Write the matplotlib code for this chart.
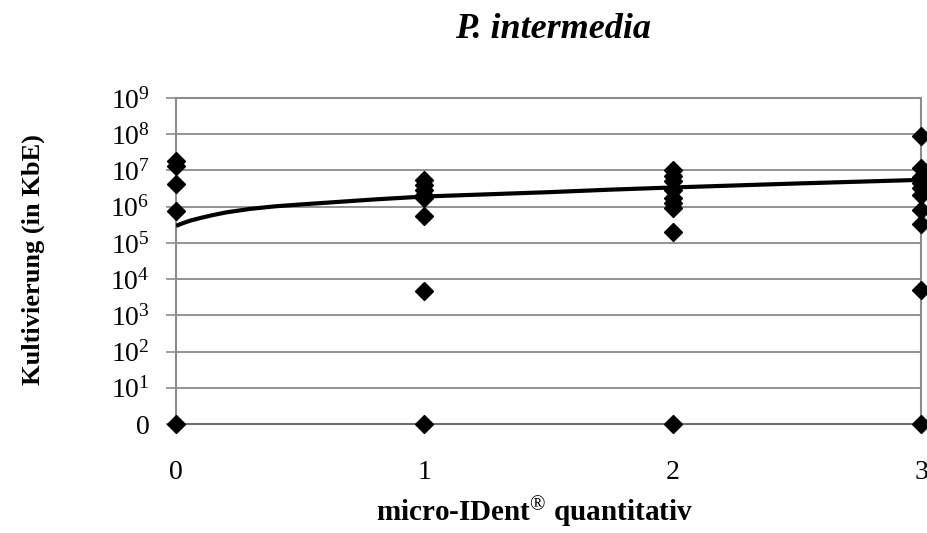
import numpy as np
import matplotlib
matplotlib.use("Agg")
import matplotlib.pyplot as plt

plt.rcParams['font.family'] = ['Liberation Serif', 'DejaVu Serif']
plt.rcParams['mathtext.fontset'] = 'custom'
plt.rcParams['mathtext.rm'] = 'Liberation Serif'
plt.rcParams['mathtext.it'] = 'Liberation Serif:italic'
plt.rcParams['mathtext.bf'] = 'Liberation Serif:bold'

# Messwerte (Exponent von 10, 0 = kein Nachweis)
x0 = [0, 0, 0, 0, 0]
y0 = [7.25, 7.13, 6.62, 5.89, 0]
x1 = [1, 1, 1, 1, 1, 1, 1, 1]
y1 = [6.74, 6.60, 6.46, 6.33, 6.23, 5.73, 3.68, 0]
x2 = [2, 2, 2, 2, 2, 2, 2, 2, 2]
y2 = [7.02, 6.85, 6.70, 6.45, 6.25, 6.10, 5.95, 5.31, 0]
x3 = [3, 3, 3, 3, 3, 3, 3, 3, 3, 3]
y3 = [7.96, 7.06, 6.83, 6.65, 6.51, 6.33, 5.91, 5.52, 3.70, 0]

# Trendlinie
trend_x = [0, 0.03, 0.06, 0.10, 0.15, 0.20, 0.30, 0.40, 0.50, 0.65, 0.80,
           1.0, 1.25, 1.5, 1.75, 2.0, 2.5, 3.0]
trend_y = [5.47, 5.55, 5.62, 5.69, 5.77, 5.84, 5.94, 6.01, 6.06, 6.13, 6.20,
           6.28, 6.34, 6.40, 6.47, 6.53, 6.64, 6.74]

ytick_labels = ['0'] + [r'$10^{%d}$' % i for i in range(1, 10)]
xtick_labels = ['0', '1', '2', '3']

xs = x0 + x1 + x2 + x3
ys = y0 + y1 + y2 + y3

fig = plt.figure(figsize=(9.27, 5.33), dpi=100)
ax = fig.add_axes([176/927, 1 - 424/533, (921-176)/927, (424-98)/533])

ax.plot(trend_x, trend_y, color='black', lw=3.0, zorder=3, solid_capstyle='butt')
ax.plot(xs, ys, 'D', color='black', ms=9.5, zorder=4, clip_on=False)

ax.set_xlim(0, 3)
ax.set_ylim(0, 9)
ax.set_yticks(range(10))
ax.set_yticklabels(ytick_labels, fontsize=20)
ax.set_xticks(range(4))
ax.set_xticklabels(xtick_labels, fontsize=20)
ax.grid(axis='y', color='#808080', lw=1.2)
ax.set_axisbelow(True)

for s in ['top', 'right', 'left']:
    ax.spines[s].set_color('#8c8c8c')
    ax.spines[s].set_linewidth(1.5)
ax.spines['bottom'].set_color('#6e6e6e')
ax.spines['bottom'].set_linewidth(1.5)
ax.tick_params(axis='y', length=7, color='#8c8c8c', width=1.2, pad=12)
ax.tick_params(axis='x', length=0, pad=26)

fig.text(535/927, 1 - 512/533, 'micro-IDent$^{\\circledR}$ quantitativ', fontsize=21,
         fontweight='bold', ha='center', va='center')
fig.text(33/927, 1 - 260/533, 'Kultivierung (in KbE)', fontsize=19, fontweight='bold',
         rotation=90, ha='center', va='center')
fig.text(553/927, 1 - 29/533, 'P. intermedia', fontsize=26, fontweight='bold', style='italic',
         ha='center', va='center')

fig.savefig('out.png', dpi=100)
